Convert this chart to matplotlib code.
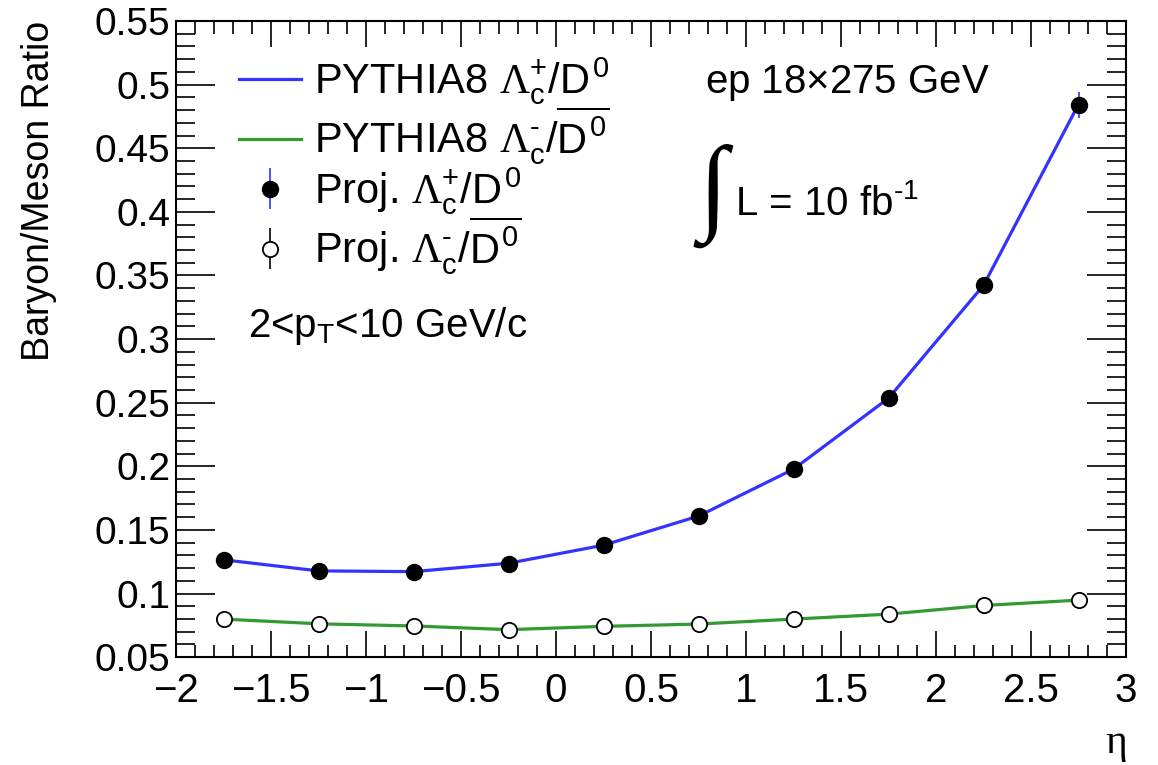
import matplotlib
matplotlib.use("Agg")
import matplotlib.pyplot as plt
from matplotlib.ticker import MultipleLocator, FuncFormatter

plt.rcParams['font.family'] = ['Liberation Sans', 'DejaVu Sans']
plt.rcParams['mathtext.fontset'] = 'custom'
plt.rcParams['mathtext.rm'] = 'Liberation Sans'
plt.rcParams['mathtext.it'] = 'Liberation Sans'
plt.rcParams['mathtext.sf'] = 'Liberation Serif'

# eta bin centres
eta = [-1.75, -1.25, -0.75, -0.25, 0.25, 0.75, 1.25, 1.75, 2.25, 2.75]

# PYTHIA8 curves
pythia_lc_plus = [0.1265, 0.1178, 0.1172, 0.1238, 0.1380, 0.1609, 0.1978, 0.2536, 0.3424, 0.4847]
pythia_lc_minus = [0.0799, 0.0762, 0.0745, 0.0716, 0.0742, 0.0760, 0.0799, 0.0838, 0.0906, 0.0948]

# projected points and their errors
proj_lc_plus = [0.1263, 0.1176, 0.1170, 0.1236, 0.1378, 0.1609, 0.1978, 0.2536, 0.3424, 0.4840]
proj_lc_plus_err = [0.0015, 0.0012, 0.0012, 0.0012, 0.0013, 0.0015, 0.0020, 0.0030, 0.0050, 0.0100]
proj_lc_minus = [0.0799, 0.0759, 0.0744, 0.0712, 0.0744, 0.0759, 0.0799, 0.0838, 0.0909, 0.0948]
proj_lc_minus_err = [0.0010, 0.0009, 0.0009, 0.0009, 0.0009, 0.0010, 0.0012, 0.0015, 0.0020, 0.0030]

blue = "#3333ff"
green = "#339933"

LC = r"\mathsf{\Lambda}_{c}"
lab_pythia_plus = r"PYTHIA8 $" + LC + r"^{+}/D^{0}$"
lab_pythia_minus = r"PYTHIA8 $" + LC + r"^{\text{-}}/\overline{D^{0}}$"
lab_proj_plus = r"Proj. $" + LC + r"^{+}/D^{0}$"
lab_proj_minus = r"Proj. $" + LC + r"^{\text{-}}/\overline{D^{0}}$"


def fmt_tick(v, pos):
  s = "%g" % round(v, 4)
  return s.replace("-", "\u2212")


fig = plt.figure(figsize=(11.58, 7.65), dpi=100)
ax = fig.add_axes([0.152, 0.141, 0.8205, 0.8315])

ax.plot(eta, pythia_lc_plus, color=blue, lw=2.3, label=lab_pythia_plus, zorder=2)
ax.plot(eta, pythia_lc_minus, color=green, lw=2.3, label=lab_pythia_minus, zorder=2)
ax.errorbar(eta, proj_lc_plus, yerr=proj_lc_plus_err, fmt="o", color="black", ecolor=blue,
            elinewidth=1.2, capsize=0, ms=11.5, label=lab_proj_plus, zorder=3)
ax.errorbar(eta, proj_lc_minus, yerr=proj_lc_minus_err, fmt="o", mfc="white", mec="black", mew=1.3,
            ecolor="black", elinewidth=1.2, capsize=0, ms=11, label=lab_proj_minus, zorder=3)

ax.set_xlim(-2, 3)
ax.set_ylim(0.05, 0.55)

ax.xaxis.set_major_locator(MultipleLocator(0.5))
ax.xaxis.set_minor_locator(MultipleLocator(0.1))
ax.yaxis.set_major_locator(MultipleLocator(0.05))
ax.yaxis.set_minor_locator(MultipleLocator(0.01))
ax.xaxis.set_major_formatter(FuncFormatter(fmt_tick))
ax.yaxis.set_major_formatter(FuncFormatter(fmt_tick))

ax.tick_params(which="both", direction="in", top=True, right=True, width=1.2)
ax.tick_params(axis="x", which="major", length=19, pad=11, labelsize=29)
ax.tick_params(axis="x", which="minor", length=9)
ax.tick_params(axis="y", which="major", length=28, pad=4, labelsize=28)
ax.tick_params(axis="y", which="minor", length=14)
for s in ax.spines.values():
  s.set_linewidth(1.5)

ax.set_ylabel("Baryon/Meson Ratio", fontsize=27, loc="top", labelpad=27)
ax.set_xlabel(r"$\mathsf{\eta}$", fontsize=30, loc="right", labelpad=10)

ax.legend(loc="upper left", bbox_to_anchor=(0.066, 0.947), frameon=False, fontsize=30,
          handlelength=1.5, handletextpad=0.3, labelspacing=-0.05, borderaxespad=0, borderpad=0)

ax.text(0.557, 0.887, r"ep 18$\times$275 GeV", transform=ax.transAxes, fontsize=29)
ax.text(0.5655, 0.726, "\u222b", transform=ax.transAxes, fontsize=76, family="Liberation Serif",
        ha="center", va="center")
ax.text(0.588, 0.695, r"L = 10 fb$^{\text{-1}}$", transform=ax.transAxes, fontsize=29)
ax.text(0.0758, 0.503, r"2<p$_{T}$<10 GeV/c", transform=ax.transAxes, fontsize=29)

fig.savefig("out.png", dpi=100)
